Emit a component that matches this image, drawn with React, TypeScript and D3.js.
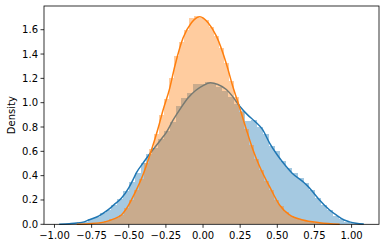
import React from "react";
import * as d3 from "d3";

const xTicks = [-1.0, -0.75, -0.5, -0.25, 0.0, 0.25, 0.5, 0.75, 1.0];
const yTicks = [0.0, 0.2, 0.4, 0.6, 0.8, 1.0, 1.2, 1.4, 1.6];

// Blue series: histogram (50 bins) and KDE curve
const blueBinStart = -0.93;
const blueBinWidth = 0.0392;
const blueHist = [
  0.005, 0.008, 0.015, 0.02, 0.04, 0.06, 0.09, 0.12, 0.155, 0.21,
  0.27, 0.35, 0.42, 0.5, 0.58, 0.63, 0.7, 0.77, 0.84, 0.97,
  1.04, 1.08, 1.15, 1.15, 1.17, 1.16, 1.13, 1.1, 1.05, 0.99,
  0.93, 0.85, 0.86, 0.8, 0.74, 0.64, 0.6, 0.52, 0.46, 0.42,
  0.38, 0.34, 0.28, 0.22, 0.16, 0.12, 0.07, 0.04, 0.02, 0.01,
];
const blueKdeX = [
  -0.968, -0.9, -0.85, -0.8, -0.77, -0.7, -0.64, -0.6, -0.55, -0.5, -0.466, -0.45,
  -0.4, -0.358, -0.3, -0.269, -0.25, -0.2, -0.15, -0.1, -0.05, 0.0, 0.05, 0.1,
  0.157, 0.2, 0.247, 0.3, 0.35, 0.4, 0.448, 0.5, 0.56, 0.6, 0.672, 0.7, 0.75,
  0.784, 0.85, 0.896, 0.95, 0.986, 1.03, 1.082,
];
const blueKdeY = [
  0.0, 0.005, 0.01, 0.02, 0.035, 0.07, 0.118, 0.16, 0.214, 0.3, 0.38, 0.42,
  0.51, 0.58, 0.67, 0.72, 0.75, 0.86, 0.955, 1.04, 1.1, 1.14, 1.163, 1.15,
  1.108, 1.05, 0.97, 0.9, 0.845, 0.78, 0.668, 0.57, 0.475, 0.42, 0.351, 0.32, 0.25,
  0.2, 0.12, 0.077, 0.035, 0.02, 0.008, 0.002,
];

// Orange series: histogram (50 bins) and KDE curve
const orangeBinStart = -0.8;
const orangeBinWidth = 0.0336;
const orangeHist = [
  0.003, 0.005, 0.01, 0.015, 0.025, 0.04, 0.055, 0.08, 0.13, 0.2,
  0.28, 0.37, 0.5, 0.62, 0.74, 0.9, 1.03, 1.2, 1.38, 1.5,
  1.6, 1.7, 1.71, 1.7, 1.68, 1.62, 1.55, 1.45, 1.33, 1.18,
  1.05, 0.92, 0.78, 0.65, 0.54, 0.45, 0.36, 0.28, 0.2, 0.15,
  0.1, 0.07, 0.05, 0.035, 0.025, 0.02, 0.012, 0.008, 0.005, 0.003,
];
const orangeKdeX = [
  -0.85, -0.77, -0.66, -0.6, -0.55, -0.5, -0.466, -0.4, -0.358, -0.3, -0.269,
  -0.224, -0.19, -0.134, -0.078, -0.022, 0.034, 0.09, 0.157, 0.2, 0.247, 0.292,
  0.336, 0.381, 0.448, 0.515, 0.582, 0.672, 0.784, 0.92,
];
const orangeKdeY = [
  0.0, 0.005, 0.02, 0.045, 0.077, 0.16, 0.24, 0.42, 0.57, 0.8, 0.94,
  1.12, 1.3, 1.534, 1.658, 1.707, 1.658, 1.547, 1.32, 1.135, 0.957, 0.778,
  0.613, 0.475, 0.31, 0.159, 0.077, 0.035, 0.013, 0.0,
];

const BLUE = "#1f77b4";
const ORANGE = "#ff7f0e";

export default function App() {
  const W = 386;
  const H = 248;
  const left = 44;
  const right = 379;
  const top = 6;
  const bottom = 224.3;

  const x = d3.scaleLinear().domain([-1.0705, 1.1845]).range([left, right]);
  const y = d3.scaleLinear().domain([0, 1.795]).range([bottom, top]);

  const line = d3
    .line<[number, number]>()
    .x((d) => x(d[0]))
    .y((d) => y(d[1]))
    .curve(d3.curveMonotoneX);

  const bluePts = blueKdeX.map((v, i) => [v, blueKdeY[i]] as [number, number]);
  const orangePts = orangeKdeX.map((v, i) => [v, orangeKdeY[i]] as [number, number]);

  const bars = (start: number, w: number, hs: number[], color: string) =>
    hs.map((h, i) => {
      const x0 = x(start + i * w);
      const x1 = x(start + (i + 1) * w);
      return (
        <rect
          key={i}
          x={x0}
          y={y(h)}
          width={x1 - x0}
          height={y(0) - y(h)}
          fill={color}
          fillOpacity={0.4}
          shapeRendering="crispEdges"
        />
      );
    });

  const font = "DejaVu Sans, sans-serif";

  return (
    <svg
      width={W}
      height={H}
      style={{ position: "absolute", left: 0, top: 0, background: "#fff" }}
    >
      <rect x={0} y={0} width={W} height={H} fill="#fff" />
      <g>{bars(blueBinStart, blueBinWidth, blueHist, BLUE)}</g>
      <path d={line(bluePts) || ""} fill="none" stroke={BLUE} strokeWidth={1.5} />
      <g>{bars(orangeBinStart, orangeBinWidth, orangeHist, ORANGE)}</g>
      <path d={line(orangePts) || ""} fill="none" stroke={ORANGE} strokeWidth={1.5} />

      <rect
        x={left}
        y={top}
        width={right - left}
        height={bottom - top}
        fill="none"
        stroke="#000"
        strokeWidth={0.8}
      />

      {xTicks.map((t) => (
        <g key={"x" + t} transform={`translate(${x(t)},${bottom})`}>
          <line y1={0} y2={3.5} stroke="#000" strokeWidth={0.8} />
          <text
            y={15}
            textAnchor="middle"
            fontFamily={font}
            fontSize={10}
            fill="#000"
          >
            {t < 0 ? "\u2212" + Math.abs(t).toFixed(2) : t.toFixed(2)}
          </text>
        </g>
      ))}
      {yTicks.map((t) => (
        <g key={"y" + t} transform={`translate(${left},${y(t)})`}>
          <line x1={0} x2={-3.5} stroke="#000" strokeWidth={0.8} />
          <text
            x={-6}
            dy="0.35em"
            textAnchor="end"
            fontFamily={font}
            fontSize={10}
            fill="#000"
          >
            {t.toFixed(1)}
          </text>
        </g>
      ))}
      <text
        transform={`translate(15,${(top + bottom) / 2}) rotate(-90)`}
        textAnchor="middle"
        fontFamily={font}
        fontSize={10}
        fill="#000"
      >
        Density
      </text>
    </svg>
  );
}
